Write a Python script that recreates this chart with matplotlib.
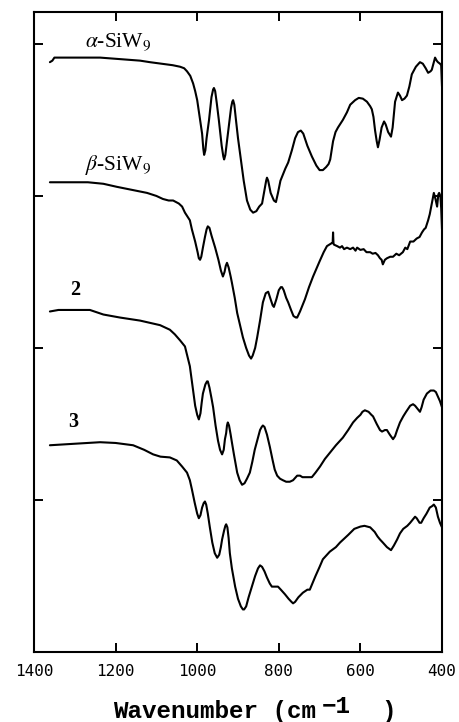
import matplotlib
matplotlib.use("Agg")
import matplotlib.pyplot as plt

# ---- data (wavenumber in cm^-1, offset transmittance in arbitrary units) ----
alpha_wn = [1361, 1355, 1350, 1341, 1312, 1238, 1140, 1116, 1060, 1042, 1032, 1025, 1017, 1010,
            1005, 1000, 994, 988, 985, 983, 980, 977, 971, 965, 961, 959, 956, 952, 947,
            940, 936, 934, 931, 927, 922, 917, 914, 912, 909, 905, 900, 895, 886, 878,
            870, 863, 855, 848, 841, 835, 831, 829, 826, 820, 812, 807, 802, 796, 790,
            784, 777, 768, 760, 753, 746, 740, 730, 719, 708, 700, 692, 684, 678, 674,
            667, 661, 655, 643, 633, 625, 613, 604, 594, 584, 576, 572, 568, 564, 560,
            557, 553, 548, 542, 538, 532, 525, 521, 515, 508, 503, 498, 492, 486, 480,
            474, 464, 454, 447, 440, 434, 428, 425, 420, 417, 413, 410, 405, 402, 400]
alpha_t = [3.88, 3.89, 3.91, 3.91, 3.91, 3.91, 3.89, 3.88, 3.86, 3.85, 3.84, 3.82, 3.79, 3.74,
           3.69, 3.63, 3.52, 3.41, 3.31, 3.27, 3.30, 3.38, 3.50, 3.65, 3.70, 3.71, 3.69, 3.61, 3.50,
           3.33, 3.26, 3.24, 3.27, 3.36, 3.47, 3.58, 3.62, 3.63, 3.60, 3.50, 3.38, 3.28, 3.10, 2.97,
           2.91, 2.89, 2.90, 2.93, 2.95, 3.04, 3.10, 3.12, 3.10, 3.02, 2.97, 2.96, 3.02, 3.10, 3.14,
           3.18, 3.22, 3.30, 3.38, 3.42, 3.43, 3.41, 3.33, 3.26, 3.20, 3.17, 3.17, 3.19, 3.21, 3.24,
           3.36, 3.42, 3.45, 3.50, 3.55, 3.60, 3.63, 3.645, 3.64, 3.62, 3.59, 3.57, 3.52, 3.43, 3.36,
           3.32, 3.37, 3.45, 3.49, 3.47, 3.42, 3.39, 3.45, 3.62, 3.68, 3.66, 3.63, 3.64, 3.66, 3.72,
           3.80, 3.85, 3.88, 3.87, 3.84, 3.81, 3.82, 3.83, 3.88, 3.91, 3.89, 3.88, 3.87, 3.86, 3.72]

beta_wn = [1361, 1268, 1230, 1197, 1160, 1123, 1100, 1084, 1070, 1059, 1045, 1037, 1030,
           1018, 1013, 1005, 999, 996, 993, 990, 986, 981, 977, 974, 970, 965, 956, 948,
           942, 937, 933, 930, 927, 923, 918, 915, 908, 902, 895, 888, 880, 873, 868, 864,
           858, 853, 846, 839, 832, 826, 820, 815, 812, 806, 800, 795, 792, 788, 782, 777,
           770, 764, 758, 755, 748, 742, 736, 726, 716, 700, 690, 682, 676, 670, 668, 667,
           666, 665, 657, 650, 645, 640, 633, 625, 618, 612, 608, 600, 592, 585, 576, 570,
           563, 557, 552, 548, 545, 540, 535, 527, 520, 512, 505, 496, 490, 485, 478, 470,
           462, 455, 449, 444, 440, 434, 430, 425, 420, 416, 412, 409, 407, 404, 402, 400]
beta_t = [3.09, 3.09, 3.08, 3.06, 3.04, 3.02, 3.00, 2.98, 2.97, 2.97, 2.95, 2.93, 2.89,
          2.84, 2.78, 2.70, 2.63, 2.59, 2.58, 2.60, 2.66, 2.73, 2.78, 2.80, 2.79, 2.74, 2.66, 2.58,
          2.51, 2.47, 2.50, 2.54, 2.56, 2.53, 2.47, 2.43, 2.33, 2.23, 2.15, 2.07, 2.00, 1.95, 1.93, 1.95,
          2.00, 2.07, 2.18, 2.30, 2.36, 2.37, 2.32, 2.28, 2.27, 2.32, 2.38, 2.40, 2.40, 2.38, 2.33, 2.30,
          2.25, 2.21, 2.20, 2.20, 2.24, 2.28, 2.32, 2.40, 2.47, 2.57, 2.63, 2.67, 2.68, 2.69, 2.69, 2.76,
          2.69, 2.68, 2.67, 2.66, 2.67, 2.65, 2.66, 2.65, 2.66, 2.64, 2.66, 2.645, 2.65, 2.63, 2.63, 2.62,
          2.625, 2.61, 2.59, 2.58, 2.55, 2.58, 2.59, 2.60, 2.60, 2.62, 2.61, 2.63, 2.66, 2.65, 2.70, 2.70,
          2.72, 2.73, 2.76, 2.78, 2.79, 2.84, 2.88, 2.95, 3.02, 2.98, 2.93, 3.01, 3.02, 3.00, 2.92, 2.78]

c2_wn = [1361, 1340, 1300, 1263, 1230, 1189, 1140, 1091, 1067, 1055, 1042, 1030, 1018,
         1010, 1005, 1000, 996, 992, 989, 986, 980, 976, 974, 970, 965, 961, 955, 949,
         944, 939, 935, 932, 929, 927, 925, 922, 918, 915, 910, 902, 896, 890, 884, 878,
         871, 865, 859, 853, 846, 842, 839, 835, 829, 822, 815, 810, 804, 797, 790, 782,
         773, 765, 755, 748, 742, 736, 728, 719, 710, 699, 687, 675, 660, 643, 630, 618,
         608, 600, 595, 589, 580, 573, 569, 560, 552, 547, 540, 535, 528, 520, 515, 510,
         503, 495, 488, 478, 471, 466, 460, 454, 450, 445, 437, 428, 420, 415, 410, 405, 400]
c2_t = [2.24, 2.25, 2.25, 2.25, 2.22, 2.20, 2.18, 2.15, 2.12, 2.09, 2.05, 2.01, 1.88,
        1.72, 1.62, 1.56, 1.53, 1.57, 1.64, 1.70, 1.76, 1.78, 1.78, 1.74, 1.67, 1.61, 1.49, 1.39,
        1.33, 1.30, 1.33, 1.40, 1.44, 1.49, 1.51, 1.49, 1.43, 1.38, 1.30, 1.18, 1.13, 1.10, 1.11, 1.14,
        1.18, 1.25, 1.33, 1.39, 1.46, 1.48, 1.49, 1.48, 1.43, 1.35, 1.26, 1.20, 1.16, 1.14, 1.13, 1.12,
        1.12, 1.13, 1.16, 1.16, 1.15, 1.15, 1.15, 1.15, 1.18, 1.22, 1.27, 1.31, 1.36, 1.41, 1.46, 1.51,
        1.54, 1.56, 1.58, 1.59, 1.58, 1.56, 1.55, 1.50, 1.46, 1.45, 1.46, 1.46, 1.43, 1.40, 1.42, 1.46,
        1.51, 1.55, 1.58, 1.62, 1.63, 1.62, 1.60, 1.58, 1.61, 1.66, 1.70, 1.72, 1.72, 1.71, 1.68, 1.65, 1.61]

c3_wn = [1361, 1300, 1238, 1200, 1157, 1130, 1108, 1090, 1067, 1050, 1037, 1025, 1018, 1013,
         1006, 1000, 996, 992, 988, 984, 981, 978, 974, 969, 963, 957, 951, 946, 942, 939,
         934, 931, 929, 926, 923, 920, 915, 907, 900, 893, 888, 885, 880, 874, 866, 858,
         851, 846, 841, 835, 829, 822, 817, 810, 802, 795, 785, 776, 769, 765, 760, 752,
         741, 730, 724, 710, 700, 692, 675, 660, 650, 630, 615, 600, 590, 576, 565, 558,
         552, 545, 535, 525, 518, 510, 503, 495, 485, 478, 472, 466, 462, 455, 451, 445,
         438, 430, 424, 420, 415, 410, 405, 400]
c3_t = [1.36, 1.37, 1.38, 1.375, 1.36, 1.33, 1.30, 1.285, 1.28, 1.26, 1.22, 1.18, 1.13, 1.07,
        0.98, 0.91, 0.88, 0.90, 0.95, 0.98, 0.99, 0.97, 0.91, 0.82, 0.72, 0.65, 0.62, 0.64, 0.69, 0.74,
        0.80, 0.83, 0.84, 0.82, 0.75, 0.65, 0.55, 0.43, 0.35, 0.30, 0.28, 0.28, 0.30, 0.36, 0.43, 0.50,
        0.55, 0.57, 0.56, 0.53, 0.49, 0.45, 0.43, 0.43, 0.43, 0.41, 0.38, 0.35, 0.33, 0.32, 0.33, 0.36,
        0.39, 0.41, 0.41, 0.50, 0.56, 0.61, 0.66, 0.69, 0.72, 0.77, 0.81, 0.825, 0.83, 0.82, 0.79, 0.76,
        0.74, 0.72, 0.69, 0.67, 0.70, 0.74, 0.78, 0.81, 0.83, 0.85, 0.87, 0.89, 0.88, 0.85, 0.85, 0.88,
        0.91, 0.95, 0.96, 0.97, 0.95, 0.89, 0.85, 0.82]

x_ticks = [1400, 1200, 1000, 800, 600, 400]
y_ticks = [1, 2, 3, 4]

W, H = 460, 722
fig = plt.figure(figsize=(W / 100, H / 100), dpi=100)
ax = fig.add_axes([34 / W, 70 / H, 408 / W, 640 / H])

for wn, t in [(alpha_wn, alpha_t), (beta_wn, beta_t), (c2_wn, c2_t), (c3_wn, c3_t)]:
    ax.plot(wn, t, color="black", lw=1.5, solid_joinstyle="round", solid_capstyle="round")

ax.set_xlim(1400, 400)
ax.set_ylim(0, 4.21)
ax.set_xticks(x_ticks)
ax.set_xticklabels([str(v) for v in x_ticks], family="DejaVu Sans Mono", fontsize=11.5)
ax.set_yticks(y_ticks)
ax.tick_params(direction="in", length=6.5, width=1.4, top=True, right=True,
               labelleft=False, labelright=False, labeltop=False, pad=9)
for s in ax.spines.values():
    s.set_linewidth(1.5)

# curve labels
ax.text(1275, 3.98, r"$\alpha$-SiW$_9$", family="Liberation Serif", math_fontfamily="stix",
        fontsize=15.5, va="baseline", ha="left")
ax.text(1275, 3.17, r"$\beta$-SiW$_9$", family="Liberation Serif", math_fontfamily="stix",
        fontsize=15.5, va="baseline", ha="left")
ax.text(1312, 2.35, "2", family="Liberation Serif", fontweight="bold", fontsize=14.5,
        va="baseline", ha="left")
ax.text(1317, 1.48, "3", family="Liberation Serif", fontweight="bold", fontsize=14.5,
        va="baseline", ha="left")

# x-axis label
mono = ["Liberation Mono", "DejaVu Sans Mono"]
fig.text(113 / W, 1 - 718 / H, "Wavenumber (cm", family=mono, fontweight="bold",
         fontsize=17.5, ha="left", va="baseline")
fig.text(322 / W, 1 - 713 / H, "\u22121", family=mono, fontweight="bold",
         fontsize=17.5, ha="left", va="baseline")
fig.text(381 / W, 1 - 718 / H, ")", family=mono, fontweight="bold",
         fontsize=17.5, ha="left", va="baseline")

fig.savefig("out.png", dpi=100)
